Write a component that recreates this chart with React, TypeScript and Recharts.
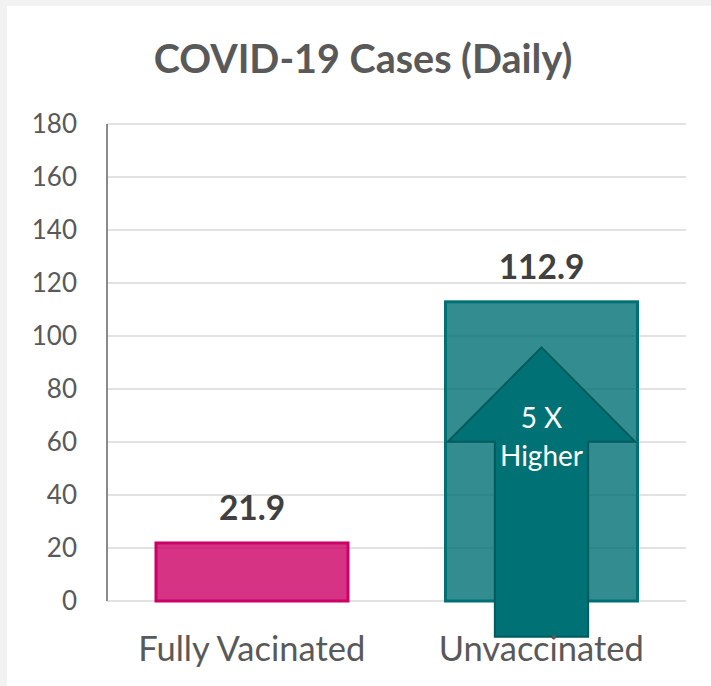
import React from 'react';
import { BarChart, Bar, XAxis, YAxis, CartesianGrid, LabelList } from 'recharts';

const categories = ['Fully Vacinated', 'Unvaccinated'];
const dailyCases = [21.9, 112.9];
const barColors = ['#cc0066', '#007074'];
const yTicks = [0, 20, 40, 60, 80, 100, 120, 140, 160, 180];
const chartTitle = 'COVID-19 Cases (Daily)';

// "5 X Higher" arrow annotation on the Unvaccinated bar (values in data units)
const arrowCategory = 'Unvaccinated';
const arrowTipValue = 95.7;
const arrowHeadBaseValue = 60.1;
const arrowTailValue = -13.5;
const arrowLabelLines = ['5 X', 'Higher'];

const data = categories.map((c, i) => ({ category: c, value: dailyCases[i] }));

const FONT = 'Lato, "Open Sans", sans-serif';
const TEXT = '#595959';

const BarShape = (props: any) => {
  const { x, y, width, height, payload, index } = props;
  const color = barColors[index] ?? barColors[0];
  const value = payload.value;
  const k = height / value;
  const baseY = y + height;
  const cx = x + width / 2;
  const parts: any[] = [
    <rect
      key="r"
      x={x}
      y={y}
      width={width}
      height={height}
      fill={color}
      fillOpacity={0.8}
      stroke={color}
      strokeWidth={3}
    />,
  ];
  if (payload.category === arrowCategory) {
    const tipY = baseY - arrowTipValue * k;
    const headY = baseY - arrowHeadBaseValue * k;
    const tailY = baseY - arrowTailValue * k;
    const hh = width * 0.488;
    const hs = width * 0.243;
    const pts = [
      [cx, tipY],
      [cx + hh, headY],
      [cx + hs, headY],
      [cx + hs, tailY],
      [cx - hs, tailY],
      [cx - hs, headY],
      [cx - hh, headY],
    ]
      .map((p) => p.join(','))
      .join(' ');
    parts.push(
      <polygon key="a" points={pts} fill="#007174" stroke="#005b5d" strokeWidth={2} strokeLinejoin="miter" />
    );
    parts.push(
      <text key="t1" x={cx} y={headY - 13.7} textAnchor="middle" fill="#ffffff" fontFamily={FONT} fontSize={28}>
        {arrowLabelLines[0]}
      </text>
    );
    parts.push(
      <text key="t2" x={cx} y={headY + 24.3} textAnchor="middle" fill="#ffffff" fontFamily={FONT} fontSize={28}>
        {arrowLabelLines[1]}
      </text>
    );
  }
  return <g>{parts}</g>;
};

export default function App() {
  return (
    <div
      style={{
        position: 'absolute',
        left: 0,
        top: 0,
        width: 711,
        height: 686,
        background: '#f2f2f2',
        overflow: 'hidden',
      }}
    >
      <div style={{ position: 'absolute', left: 7, top: 6, right: 0, bottom: 0, background: '#ffffff' }} />
      <svg style={{ position: 'absolute', left: 0, top: 0 }} width={711} height={100}>
        <text
          x={363}
          y={72.7}
          textAnchor="middle"
          fontFamily={FONT}
          fontWeight={700}
          fontSize={39.5}
          fill={TEXT}
        >
          {chartTitle}
        </text>
      </svg>
      <div style={{ position: 'absolute', left: 0, top: 0 }}>
        <BarChart
          width={711}
          height={686}
          data={data}
          margin={{ top: 124, right: 25, bottom: 0, left: 0 }}
          barSize={192}
        >
          <CartesianGrid horizontal vertical={false} stroke="#d9d9d9" strokeWidth={1.5} />
          <XAxis
            dataKey="category"
            height={85}
            tickSize={0}
            tickMargin={36}
            axisLine={false}
            tickLine={false}
            tick={{ fill: TEXT, fontSize: 34.5, fontFamily: FONT }}
            interval={0}
          />
          <YAxis
            width={107}
            domain={[0, 180]}
            ticks={yTicks}
            interval={0}
            tickSize={0}
            tickMargin={30}
            axisLine={{ stroke: '#8a8a8a', strokeWidth: 2 }}
            tickLine={false}
            tick={{ fill: TEXT, fontSize: 26, fontFamily: FONT }}
          />
          <Bar dataKey="value" isAnimationActive={false} shape={BarShape}>
            <LabelList
              dataKey="value"
              position="top"
              offset={23}
              formatter={(v: any) => Number(v).toFixed(1)}
              style={{ fontWeight: 700, fontSize: 33.5, fontFamily: FONT, fill: '#404040' }}
            />
          </Bar>
        </BarChart>
      </div>
    </div>
  );
}
